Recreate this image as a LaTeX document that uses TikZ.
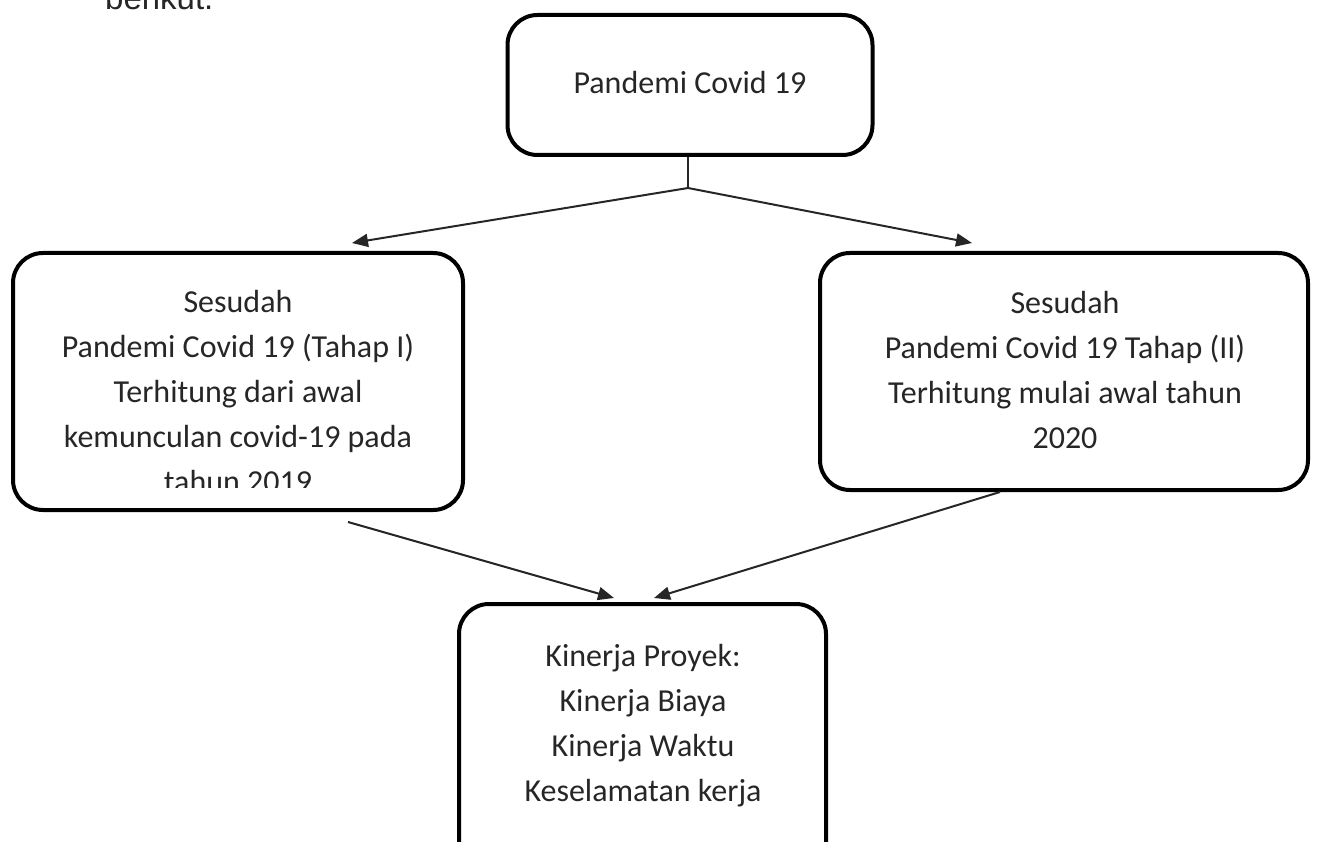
\documentclass[tikz,border=0pt]{standalone}
\usepackage{fontspec}
\setmainfont{Carlito}
\newfontfamily\arialf{Liberation Sans}
\usetikzlibrary{arrows.meta}
\begin{document}
\begin{tikzpicture}[x=1pt,y=-1pt,
  box/.style={draw=black,line width=4pt,rounded corners=30pt,inner sep=0pt},
  txt/.style={align=center,font=\fontsize{32}{45}\selectfont,text=black!85},
  arr/.style={line width=2pt,draw=black!85,-{Triangle[length=16pt,width=13pt]}},
]
\useasboundingbox (0,0) rectangle (1322,842);
\clip (0,0) rectangle (1322,842);
\node[anchor=base west,inner sep=0pt,text=black!85,font=\arialf\fontsize{33}{40}\selectfont] (intro) at (105,10) {berikut.};
% top box
\node[box,minimum width=365pt,minimum height=140pt] (top) at (690,85) {};
\node[txt] (toptext) at (690,83) {Pandemi Covid 19};
% left box
\node[box,minimum width=450pt,minimum height=257pt] (left) at (238,381.5) {};
\begin{scope}
\clip (15,255) rectangle (461,487);
\node[txt] (lefttext) at (238,392) {Sesudah\\Pandemi Covid 19 (Tahap I)\\Terhitung dari awal\\kemunculan covid-19 pada\\tahun 2019};
\end{scope}
% right box
\node[box,minimum width=488pt,minimum height=237pt] (right) at (1064,371.5) {};
\node[txt] (righttext) at (1065,370) {Sesudah\\Pandemi Covid 19 Tahap (II)\\Terhitung mulai awal tahun\\2020};
% bottom box
\node[box,minimum width=367pt,minimum height=276pt] (bottom) at (642.5,742) {};
\node[txt] (bottomtext) at (643,726) {Kinerja Proyek:\\Kinerja Biaya\\Kinerja Waktu\\Keselamatan kerja};
% connectors
\coordinate (split) at (688,188);
\coordinate (lefttip) at (352,243);
\coordinate (righttip) at (972,243);
\coordinate (lstart) at (348,522);
\coordinate (ltip) at (614,598);
\coordinate (rstart) at (1000,492);
\coordinate (rtip) at (654,598);
\draw[line width=2pt,draw=black!85] (top.south -| split) -- (split);
\draw[arr] (split) -- (lefttip);
\draw[arr] (split) -- (righttip);
\draw[arr] (lstart) -- (ltip);
\draw[arr] (rstart) -- (rtip);
\end{tikzpicture}
\end{document}
